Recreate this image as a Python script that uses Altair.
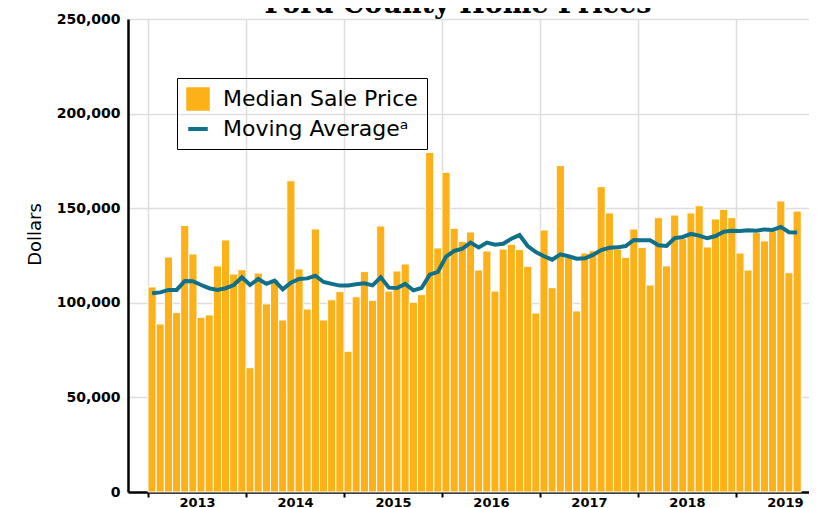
import altair as alt
import pandas as pd

# Monthly data, Jan 2013 .. Aug 2019
months = [str(p) for p in pd.period_range("2013-01", periods=80, freq="M")]

median_price = [
    108400, 88800, 124200, 94800, 140800, 125800, 92300, 93600, 119500, 133200, 115200, 117500,
    65700, 115700, 99400, 112400, 90900, 164500, 117900, 96700, 139000, 90900, 101600, 105900,
    74400, 103200, 116500, 101300, 140600, 106200, 116800, 120500, 100300, 104300, 179500, 129000,
    169000, 139400, 132500, 137400, 117300, 127400, 106200, 128400, 130900, 128100, 119300, 94600,
    138500, 108000, 172500, 124000, 95700, 126300, 127500, 161400, 147500, 128400, 124000, 139000,
    129300, 109400, 145000, 119500, 146400, 133900, 147500, 151300, 129500, 144300, 149400, 145000,
    126300, 117300, 137100, 132700, 138000, 153800, 115900, 148500,
]

moving_average = [
    105000, 105500, 106800, 106800, 111500, 111400, 109400, 107700, 106800, 107700, 109400, 113500,
    109400, 112600, 110000, 111700, 107100, 110600, 112600, 112900, 114300, 111000, 110000, 109100,
    109200, 109800, 110300, 109200, 113500, 108000, 107800, 110000, 106600, 107800, 114900, 116300,
    124400, 127400, 128600, 131800, 129300, 131800, 130700, 131200, 133900, 135800, 130000, 126800,
    124600, 122800, 125600, 124600, 123300, 123500, 125300, 127900, 129100, 129300, 130000, 133200,
    133000, 133000, 130400, 130000, 134200, 134800, 136400, 135500, 134100, 135300, 137600, 138100,
    138000, 138300, 138100, 138800, 138500, 140100, 137300, 137100,
]

years = [2013, 2014, 2015, 2016, 2017, 2018, 2019]
series_names = ["Median Sale Price", "Moving Average\u1d43"]
series_colors = ["#FBB117", "#10708A"]
y_ticks = [0, 50000, 100000, 150000, 200000, 250000]
title_text = "Ford County Home Prices"

n = len(months)
df = pd.DataFrame({
    "month": months,
    "start": [i for i in range(n)],
    "end": [i + 1 for i in range(n)],
    "mid": [i + 0.5 for i in range(n)],
    "price": median_price,
    "ma": moving_average,
})
df["s_bar"] = series_names[0]
df["s_line"] = series_names[1]

tick_vals = sorted([12 * k for k in range(len(years))] + [12 * k + 6 for k in range(len(years))])
label_expr = "datum.value % 12 == 6 ? '' + (" + str(years[0]) + " + floor(datum.value / 12)) : ''"
grid_test = "datum.value % 12 == 0"

xscale = alt.Scale(domain=[-2.45, 80.95], nice=False, zero=False)
yscale = alt.Scale(domain=[0, 250000], nice=False)
color_scale = alt.Scale(domain=series_names, range=series_colors)

x_axis = alt.Axis(
    values=tick_vals,
    labelExpr=label_expr,
    title=None,
    grid=True,
    gridColor="#dddddd",
    gridWidth=1.5,
    gridOpacity={"condition": {"test": grid_test, "value": 1}, "value": 0},
    tickOpacity={"condition": {"test": grid_test, "value": 1}, "value": 0},
    ticks=True,
    tickColor="black",
    tickWidth=2,
    tickSize=5,
    domainColor="black",
    domainWidth=2.5,
    labelFont="DejaVu Sans",
    labelFontWeight="bold",
    labelFontSize=13,
    labelColor="black",
    labelPadding=-1,
    labelOverlap=False,
    labelFlush=False,
)

y_axis = alt.Axis(
    values=y_ticks,
    format=",d",
    title="Dollars",
    titleFont="DejaVu Sans",
    titleFontSize=18,
    titleFontWeight="normal",
    titleColor="black",
    titleX=-84,
    titleY=215,
    grid=True,
    gridColor="#dddddd",
    gridWidth=1.5,
    ticks=False,
    domainColor="black",
    domainWidth=2.5,
    labelFont="DejaVu Sans",
    labelFontWeight="bold",
    labelFontSize=14,
    labelColor="black",
    labelPadding=8,
)

legend = alt.Legend(
    title=None,
    orient="none",
    legendX=49,
    legendY=59,
    strokeColor="black",
    padding=9,
    labelFont="DejaVu Sans",
    labelFontSize=22,
    labelColor="black",
    labelOffset=13,
    symbolSize=380,
    symbolStrokeWidth=4,
    symbolType=alt.expr("datum.value == '" + series_names[1] + "' ? 'stroke' : 'square'"),
    rowPadding=0,
    labelLimit=400,
)

bars = alt.Chart(df).mark_bar(stroke="white", strokeWidth=1).encode(
    x=alt.X("start:Q", scale=xscale, axis=x_axis),
    x2="end:Q",
    y=alt.Y("price:Q", scale=yscale, axis=y_axis),
    y2=alt.datum(0),
    color=alt.Color("s_bar:N", scale=color_scale, legend=legend),
)

line = alt.Chart(df).mark_line(strokeWidth=4).encode(
    x=alt.X("mid:Q", scale=xscale, axis=x_axis),
    y=alt.Y("ma:Q", scale=yscale, axis=y_axis),
    color=alt.Color("s_line:N", scale=color_scale, legend=legend),
)

title = alt.Chart(pd.DataFrame({"t": [title_text]})).mark_text(
    font="DejaVu Serif", fontWeight="bold", fontSize=27, baseline="alphabetic",
    align="center", color="black", clip=False,
).encode(text="t:N", x=alt.value(330), y=alt.value(-6))

chart = alt.layer(bars, line, title).properties(
    width=681,
    height=473,
    autosize=alt.AutoSizeParams(type="none"),
    padding={"left": 120, "top": 11, "right": 0, "bottom": 16},
    view=alt.ViewBackground(stroke="transparent", strokeWidth=0),
).configure_view(stroke="transparent", strokeWidth=0)

chart.save("out.html", embed_options={"renderer": "svg", "actions": False})
